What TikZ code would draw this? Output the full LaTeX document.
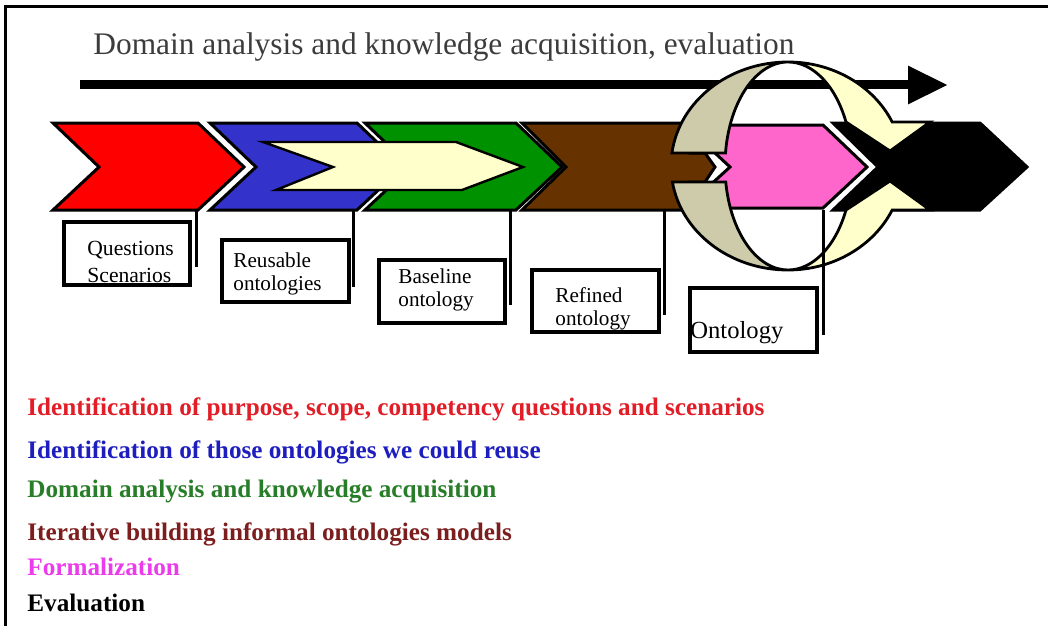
\documentclass[tikz,border=0pt]{standalone}
\usepackage{fontspec}
\setmainfont{Liberation Serif}
\usetikzlibrary{arrows.meta}
\definecolor{chred}{RGB}{255,0,0}
\definecolor{chblue}{RGB}{51,51,204}
\definecolor{chgreen}{RGB}{0,145,0}
\definecolor{chbrown}{RGB}{102,51,0}
\definecolor{chpink}{RGB}{255,102,204}
\definecolor{cream}{RGB}{255,255,204}
\definecolor{khaki}{RGB}{206,203,170}
\definecolor{titlegray}{RGB}{60,60,60}
\definecolor{txred}{RGB}{225,30,40}
\definecolor{txblue}{RGB}{30,30,190}
\definecolor{txgreen}{RGB}{40,125,40}
\definecolor{txbrown}{RGB}{125,30,30}
\definecolor{txpink}{RGB}{235,60,235}

\begin{document}
\begin{tikzpicture}[
    x=0.5pt, y=-0.5pt,
    chevron/.style={draw=black, line width=1.5pt, line join=miter},
    ring/.style={draw=black, line width=1.4pt},
    link/.style={draw=black, line width=1.5pt},
    flow/.style={line width=4.5pt, -{Triangle[length=20pt, width=18pt]}},
    title/.style={anchor=base west, inner sep=0pt, text=titlegray, font=\fontsize{15.7}{18}\selectfont},
    labelbox/.style={rectangle, draw=black, line width=2pt, anchor=north west, inner sep=0pt},
    labeltext/.style={anchor=north west, inner sep=0pt, align=left, font=\fontsize{10.6}{11.7}\selectfont},
    legend/.style={anchor=base west, inner sep=0pt, font=\bfseries\fontsize{12.6}{14}\selectfont}
]
    \useasboundingbox (0,0) rectangle (1048,626);

    % frame
    \draw[line width=1.5pt] (5,626) -- (5,7) -- (1048,7);

    % heading and long arrow
    \node[title] (phase) at (93,55) {Domain analysis and knowledge acquisition, evaluation};
    \coordinate (flowstart) at (80,85);
    \coordinate (flowend) at (948,85);
    \draw[flow] (flowstart) -- (flowend);

    % chevrons
    \foreach \nm/\lx/\rx in {red/53/198, blue/210/357, green/365/516}
        \draw[chevron, fill=ch\nm] (\lx,123) -- (\rx,123) -- (\rx+46,167) -- (\rx,210) -- (\lx,210) -- (\lx+46,167) -- cycle;
    \draw[chevron, fill=cream, line width=1.2pt] (263,142) -- (456,142) -- (523,167) -- (462,190) -- (276,190) -- (333,167) -- cycle;
    \draw[chevron, fill=chpink] (685,125) -- (823,125) -- (867,167) -- (823,208) -- (685,208) -- (730,167) -- cycle;
    \draw[chevron, fill=chbrown] (522,123) -- (690,123) -- (690,153) -- (705,153) -- (715,167) -- (705,182) -- (690,182) -- (690,210) -- (522,210) -- (566,167) -- cycle;
    \draw[chevron, fill=black] (833,123) -- (980,123) -- (1027,167) -- (980,210) -- (833,210) -- (878,167) -- cycle;

    % circular arrows
    \draw[ring, fill=khaki] (788,166) ++(187.2:117 and 104) arc[start angle=187.2, end angle=270, x radius=117, y radius=104] arc[start angle=270, end angle=187.2, x radius=63, y radius=104] -- cycle;
    \draw[ring, fill=khaki] (788,166) ++(171.15:117 and 104) arc[start angle=171.15, end angle=90, x radius=117, y radius=104] arc[start angle=90, end angle=171.15, x radius=63, y radius=104] -- cycle;
    \draw[ring, fill=cream] (788,62) arc[start angle=270, end angle=334.97, x radius=115, y radius=104] -- (930,122) -- (890,151) -- (846,122) arc[start angle=334.97, end angle=270, x radius=64, y radius=104] -- cycle;
    \draw[ring, fill=cream] (846,210) -- (890,181) -- (930,210) -- (892.2,210) arc[start angle=25.03, end angle=90, x radius=115, y radius=104] arc[start angle=90, end angle=25.03, x radius=64, y radius=104] -- cycle;

    % connectors
    \foreach \nm/\x/\y in {red/196/267, blue/353/287, green/510/305, brown/664/315, pink/823/335} {
        \coordinate (\nm-top) at (\x,210);
        \coordinate (\nm-foot) at (\x,\y);
        \draw[link] (\nm-top) -- (\nm-foot);
    }

    % Questions Scenarios
    \begin{scope}
        \clip (62,220) rectangle (188,283);
        \node[labeltext, font=\fontsize{10.8}{13.6}\selectfont] (qtext) at (87,241) {Questions\\Scenarios};
    \end{scope}
    \node[labelbox, minimum width=63pt, minimum height=31.5pt] (qbox) at (62,220) {};

    % Reusable ontologies
    \begin{scope}
        \clip (220,238) rectangle (347,300);
        \node[labeltext] (rtext) at (233,252) {Reusable\\ontologies};
    \end{scope}
    \node[labelbox, minimum width=63.5pt, minimum height=31pt] (rbox) at (220,238) {};

    % Baseline ontology
    \begin{scope}
        \clip (377,258) rectangle (503,321);
        \node[labeltext] (btext) at (398,268) {Baseline\\ontology};
    \end{scope}
    \node[labelbox, minimum width=63pt, minimum height=31.5pt] (bbox) at (377,258) {};

    % Refined ontology
    \begin{scope}
        \clip (530,268) rectangle (657,330);
        \node[labeltext] (ftext) at (555,287) {Refined\\ontology};
    \end{scope}
    \node[labelbox, minimum width=63.5pt, minimum height=31pt] (fbox) at (530,268) {};

    % Ontology
    \node[labeltext, font=\fontsize{12.3}{14}\selectfont] (otext) at (690,321) {Ontology};
    \node[labelbox, minimum width=63.5pt, minimum height=32pt] (obox) at (688,286) {};

    % legend
    \node[legend, text=txred] (purpose) at (27,415) {Identification of purpose, scope, competency questions and scenarios};
    \node[legend, text=txblue] (reuse) at (27,458) {Identification of those ontologies we could reuse};
    \node[legend, text=txgreen] (acquire) at (27,497) {Domain analysis and knowledge acquisition};
    \node[legend, text=txbrown] (iterate) at (27,540) {Iterative building informal ontologies models};
    \node[legend, text=txpink] (formal) at (27,575) {Formalization};
    \node[legend, text=black] (evaluate) at (27,611) {Evaluation};
\end{tikzpicture}
\end{document}
